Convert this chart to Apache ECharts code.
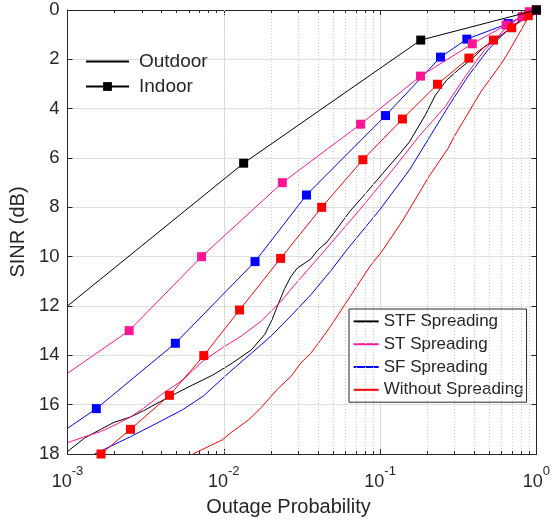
<!DOCTYPE html>
<html><head><meta charset="utf-8">
<script src="https://cdn.jsdelivr.net/npm/echarts@6/dist/echarts.min.js"></script>
<style>html,body{margin:0;padding:0;background:#fff}#c{width:553px;height:524px}</style>
</head><body><div id="c"></div>
<script>
// ---- axis ranges / ticks ----
const xMin = 0.001, xMax = 1;
const yMin = 0, yMax = 18, yStep = 2;
const minorX = [0.002,0.003,0.004,0.005,0.006,0.007,0.008,0.009,
                0.02,0.03,0.04,0.05,0.06,0.07,0.08,0.09,
                0.2,0.3,0.4,0.5,0.6,0.7,0.8,0.9];

// ---- legend labels ----
const envNames = ['Outdoor', 'Indoor'];
const schemeNames = ['STF Spreading', 'ST Spreading', 'SF Spreading', 'Without Spreading'];

// ---- Outdoor curves: [outage probability, SINR dB] ----
const stfOutdoor = [[0.001,17.9],[0.00129,17.35],[0.00163,17.0],[0.00198,16.72],[0.00253,16.5],[0.00306,16.25],[0.0043,15.74],[0.00632,15.2],[0.0085,14.8],[0.0113,14.32],[0.015,13.78],[0.0183,13.15],[0.0202,12.6],[0.0222,11.95],[0.0245,11.3],[0.0269,10.8],[0.0297,10.45],[0.036,10.1],[0.0397,9.75],[0.0458,9.4],[0.0505,9.05],[0.0643,8.15],[0.0818,7.4],[0.1042,6.62],[0.1327,5.85],[0.154,5.35],[0.195,4.25],[0.226,3.45],[0.267,2.84],[0.316,2.43],[0.384,2.0],[0.466,1.49],[0.593,1.05],[0.755,0.54],[1,0]];
const stOutdoor = [[0.001,17.54],[0.00129,17.3],[0.00163,17.09],[0.00208,16.78],[0.00253,16.5],[0.00306,16.15],[0.00409,15.54],[0.00547,15.0],[0.00632,14.62],[0.00731,14.25],[0.00977,13.7],[0.01306,13.2],[0.01745,12.6],[0.0233,11.8],[0.0297,11.0],[0.0445,9.73],[0.074,8.1],[0.12,6.49],[0.177,5.13],[0.261,3.92],[0.35,2.7],[0.466,1.62],[0.62,0.81],[0.79,0.27],[1,0]];
const sfOutdoor = [[0.00149,18],[0.00253,17.3],[0.00409,16.62],[0.00547,16.2],[0.0074,15.65],[0.0085,15.3],[0.0113,14.59],[0.015,13.92],[0.0202,13.2],[0.0269,12.4],[0.036,11.55],[0.048,10.6],[0.0612,9.73],[0.0994,8.1],[0.154,6.49],[0.273,3.92],[0.364,2.7],[0.49,1.62],[0.62,0.95],[0.79,0.4],[1,0]];
const noneOutdoor = [[0.00634,18],[0.00977,17.43],[0.0113,17.1],[0.0144,16.62],[0.01745,16.1],[0.0222,15.35],[0.0269,14.86],[0.0312,14.3],[0.036,13.92],[0.0415,13.4],[0.048,12.84],[0.0643,11.62],[0.086,10.4],[0.1042,9.73],[0.139,8.55],[0.205,6.76],[0.273,5.6],[0.30,5.1],[0.443,3.3],[0.593,2.2],[0.65,1.8],[0.755,1.08],[0.92,0.13],[1,0]];

// ---- Indoor curves (marked samples) ----
const stfIndoor = [[0.001,12.0],[0.0134,6.21],[0.182,1.22],[1,0]];
const stIndoor = [[0.001,14.73],[0.00248,13.0],[0.00721,10.0],[0.0237,7.0],[0.075,4.63],[0.1815,2.68],[0.389,1.37],[0.641,0.61],[0.81,0.27],[0.90,0.07],[1,0]];
const sfIndoor = [[0.001,16.96],[0.00153,16.16],[0.0049,13.51],[0.01585,10.2],[0.0338,7.5],[0.1084,4.28],[0.2437,1.91],[0.359,1.18],[0.66,0.55],[1,0]];
const noneIndoor = [[0.00164,18.0],[0.00253,17.0],[0.00449,15.62],[0.00745,14.01],[0.01262,12.16],[0.0231,10.07],[0.0423,8.0],[0.0776,6.07],[0.139,4.42],[0.233,3.01],[0.370,1.95],[0.531,1.22],[0.695,0.72],[0.888,0.23],[1,0]];

// ---- styling ----
const FONT = '"Liberation Sans", Arial, Helvetica, sans-serif';
const AX = '#262626';
const COLORS = {stf:'#000000', st:'#ff1493', sf:'#0000ff', none:'#ff0000'};

const chart = echarts.init(document.getElementById('c'), null, {renderer:'canvas'});

function outdoor(name, data, color) {
  return {name, type:'line', data, showSymbol:false, symbol:'none', z:3,
    lineStyle:{color, width:1}, itemStyle:{color}, silent:true};
}
function indoor(name, data, color, z) {
  return {name, type:'line', data, symbol:'rect',
    symbolSize: v => (v[0] > xMin ? 9 : 0), z,
    lineStyle:{color, width:1}, itemStyle:{color}, silent:true};
}
function legendSeries(name, color, withMarker) {
  return {name, type:'line', data:[], symbol: withMarker ? 'rect' : 'circle',
    lineStyle:{color, width:1}, itemStyle:{color}};
}

const minorGrid = minorX.map(v => ({xAxis: v}));
const minorTicks = [];
minorX.forEach(v => {
  minorTicks.push([{coord:[v, yMax]}, {coord:[v, yMax - 0.12]}]);
  minorTicks.push([{coord:[v, yMin]}, {coord:[v, yMin + 0.12]}]);
});

const option = {
  animation:false,
  backgroundColor:'#ffffff',
  textStyle:{fontFamily:FONT},
  grid:{left:63, right:14, top:10, bottom:70, containLabel:false},
  xAxis:[{
    type:'log', logBase:10, min:xMin, max:xMax, position:'bottom',
    axisLine:{show:true, onZero:false, lineStyle:{color:AX, width:1}},
    axisTick:{show:true, inside:true, length:5, lineStyle:{color:AX, width:1}},
    axisLabel:{show:true, margin:11, showMinLabel:true, showMaxLabel:true,
      formatter: v => '{b|10}{s|' + Math.round(Math.log10(v)) + '}',
      rich:{
        b:{fontSize:18, fontFamily:FONT, color:AX, lineHeight:26, verticalAlign:'bottom'},
        s:{fontSize:13, fontFamily:FONT, color:AX, lineHeight:10, verticalAlign:'top'}
      }},
    splitLine:{show:true, lineStyle:{color:'#dedede', width:1}},
    name:'Outage Probability', nameLocation:'middle', nameGap:43,
    nameTextStyle:{fontSize:20, fontFamily:FONT, color:AX, padding:[0,27,0,0]}
  },{
    type:'log', logBase:10, min:xMin, max:xMax, position:'top',
    axisLine:{show:true, onZero:false, lineStyle:{color:AX, width:1}},
    axisTick:{show:true, inside:true, length:5, lineStyle:{color:AX, width:1}},
    axisLabel:{show:false}, splitLine:{show:false}
  }],
  yAxis:[{
    type:'value', inverse:true, min:yMin, max:yMax, interval:yStep, position:'left',
    axisLine:{show:true, onZero:false, lineStyle:{color:AX, width:1}},
    axisTick:{show:true, inside:true, length:5, lineStyle:{color:AX, width:1}},
    axisLabel:{show:true, margin:8, fontSize:18.5, fontFamily:FONT, color:AX},
    splitLine:{show:true, lineStyle:{color:'#dedede', width:1}},
    name:'SINR (dB)', nameLocation:'middle', nameGap:36, nameRotate:90,
    nameTextStyle:{fontSize:20, fontFamily:FONT, color:AX}
  },{
    type:'value', inverse:true, min:yMin, max:yMax, interval:yStep, position:'right',
    axisLine:{show:true, onZero:false, lineStyle:{color:AX, width:1}},
    axisTick:{show:true, inside:true, length:5, lineStyle:{color:AX, width:1}},
    axisLabel:{show:false}, splitLine:{show:false}
  }],
  legend:[{
    data:[{name:envNames[0], itemStyle:{opacity:0}}, {name:envNames[1]}],
    orient:'vertical', left:85, top:49, padding:0,
    itemWidth:43, itemHeight:11, itemGap:0, selectedMode:false,
    textStyle:{fontSize:19, fontFamily:FONT, color:AX, lineHeight:25, padding:[0,0,0,5]}
  },{
    data:schemeNames.map(n => ({name:n, itemStyle:{opacity:0}})),
    orient:'vertical', left:349, top:309, padding:[1,3,1,3.7],
    itemWidth:25, itemHeight:10, itemGap:0, selectedMode:false,
    backgroundColor:'#ffffff', borderColor:AX, borderWidth:1, borderRadius:0,
    textStyle:{fontSize:17, fontFamily:FONT, color:AX, lineHeight:22.8}
  }],
  series:[
    {name:'minor-grid', type:'line', data:[], z:1, silent:true,
      markLine:{silent:true, symbol:'none', animation:false, label:{show:false},
        lineStyle:{color:'#cfcfcf', width:1, type:[1,2]}, data:minorGrid}},
    {name:'minor-ticks', type:'line', data:[], z:4, silent:true,
      markLine:{silent:true, symbol:'none', animation:false, label:{show:false},
        lineStyle:{color:AX, width:1, type:'solid'}, data:minorTicks}},
    outdoor('STF outdoor', stfOutdoor, COLORS.stf),
    outdoor('ST outdoor', stOutdoor, COLORS.st),
    outdoor('SF outdoor', sfOutdoor, COLORS.sf),
    outdoor('Without outdoor', noneOutdoor, COLORS.none),
    indoor('SF indoor', sfIndoor, COLORS.sf, 5),
    indoor('ST indoor', stIndoor, COLORS.st, 6),
    indoor('Without indoor', noneIndoor, COLORS.none, 7),
    indoor('STF indoor', stfIndoor, COLORS.stf, 8),
    // legend entries
    legendSeries('Outdoor', '#000000', false),
    legendSeries('Indoor', '#000000', true),
    legendSeries('STF Spreading', COLORS.stf, false),
    legendSeries('ST Spreading', COLORS.st, false),
    legendSeries('SF Spreading', COLORS.sf, false),
    legendSeries('Without Spreading', COLORS.none, false)
  ]
};
chart.setOption(option);
</script></body></html>
